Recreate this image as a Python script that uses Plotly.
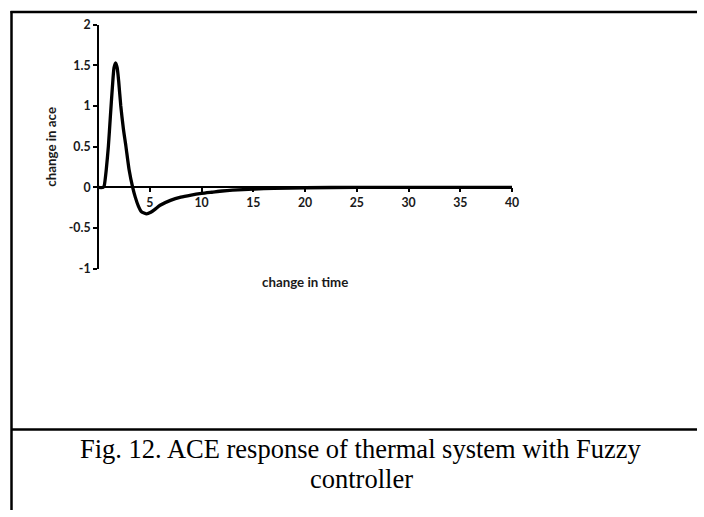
import plotly.graph_objects as go

# data
time_vals = [0, 0.5, 0.6, 0.8, 1.0, 1.2, 1.4, 1.55, 1.7, 1.85, 2.0, 2.2, 2.45, 2.7, 3.0,
             3.35, 3.6, 3.9, 4.2, 4.7, 5.1, 5.5, 6, 7, 8, 9, 10, 11, 12, 13, 15, 17,
             20, 25, 30, 35, 40]
ace_vals = [0, 0, 0.02, 0.22, 0.5, 0.88, 1.25, 1.47, 1.53, 1.47, 1.3, 1.0, 0.72, 0.5, 0.22,
            0.0, -0.12, -0.23, -0.3, -0.325, -0.305, -0.27, -0.22, -0.16, -0.12, -0.095,
            -0.075, -0.06, -0.045, -0.035, -0.022, -0.012, -0.005, 0, 0, 0, 0]
x_ticks = [5, 10, 15, 20, 25, 30, 35, 40]
y_ticks = [-1, -0.5, 0, 0.5, 1, 1.5, 2]
y_tick_text = ["-1", "-0.5", "0", "0.5", "1", "1.5", "2"]
caption_lines = ["Fig. 12. ACE response of thermal system with Fuzzy", "controller"]

W, H = 704, 517


def px(X):
    return (X / 0.99) / W


def py(Y):
    return (H - (Y - 7.5) / 0.97) / H


tick_font = dict(family="Lato", size=12.3, color="#1a1a1a", weight="bold")

fig = go.Figure()
fig.add_trace(go.Scatter(x=time_vals, y=ace_vals, mode="lines",
                         line=dict(color="black", width=3.3, shape="spline", smoothing=0.6),
                         hoverinfo="skip", showlegend=False))

y_dom = [py(268), py(24)]
zero_pos = y_dom[0] + (y_dom[1] - y_dom[0]) * (1 / 3)

fig.update_layout(
    autosize=True, margin=dict(l=0, r=0, t=0, b=0, pad=0),
    paper_bgcolor="white", plot_bgcolor="white",
    xaxis=dict(domain=[px(98), px(512)], range=[0, 40], anchor="free", position=zero_pos,
               showline=True, linecolor="black", linewidth=2, showgrid=False, zeroline=False,
               ticks="outside", ticklen=4, tickwidth=1.5, tickcolor="black",
               tickvals=x_ticks, ticktext=[str(v) for v in x_ticks], tickfont=tick_font),
    yaxis=dict(domain=y_dom, range=[-1, 2], anchor="free", position=px(98),
               showline=True, linecolor="black", linewidth=2, showgrid=False, zeroline=False,
               ticks="outside", ticklen=4, tickwidth=1.5, tickcolor="black",
               tickvals=y_ticks, ticktext=y_tick_text, tickfont=tick_font),
)

line = dict(color="black", width=2.5)
fig.add_shape(type="line", xref="paper", yref="paper", x0=px(10.5), x1=1.0, y0=py(11.5), y1=py(11.5), line=line)
fig.add_shape(type="line", xref="paper", yref="paper", x0=px(11.5), x1=px(11.5), y0=py(10.5), y1=0.0, line=line)
fig.add_shape(type="line", xref="paper", yref="paper", x0=px(11.5), x1=1.0, y0=py(428.5), y1=py(428.5), line=line)

title_font = dict(family="Lato", size=13.3, color="#1a1a1a", weight="bold")
fig.add_annotation(text="change in time", x=px(305), y=py(281), xref="paper", yref="paper",
                   showarrow=False, font=title_font, xanchor="center", yanchor="middle")
fig.add_annotation(text="change in ace", x=px(51), y=py(146), xref="paper", yref="paper",
                   showarrow=False, font=title_font, textangle=-90, xanchor="center", yanchor="middle")

cap_font = dict(family="Liberation Serif", size=26.5, color="black")
fig.add_annotation(text=caption_lines[0], x=px(361), y=py(448), xref="paper", yref="paper",
                   showarrow=False, font=cap_font, xanchor="center", yanchor="middle")
fig.add_annotation(text=caption_lines[1], x=px(361), y=py(478), xref="paper", yref="paper",
                   showarrow=False, font=cap_font, xanchor="center", yanchor="middle")

fig.write_html("out.html",
               default_width="100vw", default_height="100vh",
               config=dict(displayModeBar=False, responsive=True),
               post_script="document.documentElement.style.margin='0';document.body.style.margin='0';document.body.style.overflow='hidden';window.dispatchEvent(new Event('resize'));")
